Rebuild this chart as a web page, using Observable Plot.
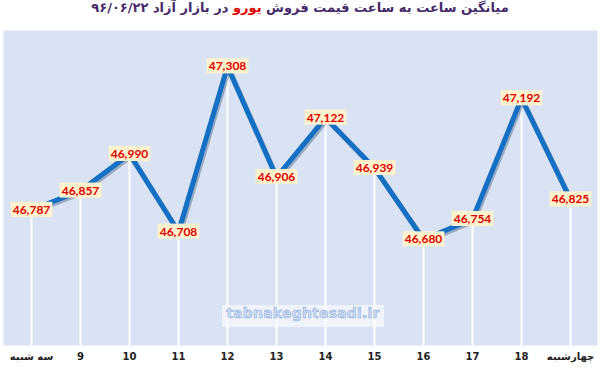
<!DOCTYPE html>
<html>
<head>
<meta charset="utf-8">
<script src="https://cdn.jsdelivr.net/npm/d3@7"></script>
<script src="https://cdn.jsdelivr.net/npm/@observablehq/plot@0.6"></script>
<style>
  body { margin: 0; background: #ffffff; width: 600px; height: 369px; overflow: hidden; position: relative; }
  #title { height: 30px; line-height: 30px; text-align: center; direction: rtl;
           font: bold 13px "DejaVu Sans", sans-serif; color: #45296a; white-space: nowrap; }
  #title .red { color: #e00000; }
  #wm { position: absolute; left: 222px; top: 305px; width: 162px; height: 22px; line-height: 22px;
        background: rgba(255,255,255,0.6); text-align: center; font: bold 14px "DejaVu Sans", sans-serif;
        color: #cfdcf2; -webkit-text-stroke: 0.5px #86a8d8; letter-spacing: 0.2px; }
</style>
</head>
<body>
<div id="title">میانگین ساعت به ساعت قیمت فروش <span class="red">یورو</span> در بازار آزاد ۹۶/۰۶/۲۲</div>
<div id="chart"></div>
<div id="wm">tabnakeghtesadi.ir</div>
<script>
const days = ["سه شنبه", "9", "10", "11", "12", "13", "14", "15", "16", "17", "18", "چهارشنبه"];
const prices = [46787, 46857, 46990, 46708, 47308, 46906, 47122, 46939, 46680, 46754, 47192, 46825];

const data = days.map((d, i) => ({day: d, price: prices[i]}));
const yMin = 46295, yMax = 47439;

const chart = Plot.plot({
  width: 600,
  height: 339,
  marginTop: 0,
  marginBottom: 24,
  marginLeft: 3,
  marginRight: 3,
  style: {background: "transparent", overflow: "visible"},
  x: {type: "point", domain: days, padding: 0.5, label: null, tickSize: 0, tickPadding: 7},
  y: {domain: [yMin, yMax], axis: null},
  marks: [
    Plot.frame({fill: "#dae3f3", stroke: null}),
    Plot.ruleX(data, {x: "day", y1: () => yMin, y2: "price", stroke: "#ffffff", strokeWidth: 2}),
    Plot.line(data, {x: "day", y: "price", stroke: "#1c3f66", strokeWidth: 5, strokeOpacity: 0.35, dx: 1.5, dy: 2}),
    Plot.line(data, {x: "day", y: "price", stroke: "#1570c4", strokeWidth: 5}),
    Plot.text(data, {x: "day", y: "price", text: d => d3.format(",")(d.price),
      fill: "#e00000", fontWeight: "bold", fontSize: 12, fontFamily: "Lato, 'Liberation Sans', sans-serif"})
  ]
});
const ax = chart.querySelector('g[aria-label="x-axis tick label"]');
if (ax) { ax.setAttribute("font-size", "10"); ax.setAttribute("font-weight", "bold"); ax.setAttribute("fill", "#222"); ax.setAttribute("font-family", "'DejaVu Sans', sans-serif"); }
document.getElementById("chart").appendChild(chart);

// beige label boxes behind value labels
const tg = Array.from(chart.querySelectorAll('g[aria-label="text"]')).pop();
if (tg) {
  tg.querySelectorAll("text").forEach(t => {
    const b = t.getBBox();
    const r = document.createElementNS("http://www.w3.org/2000/svg", "rect");
    r.setAttribute("x", b.x - 2);
    r.setAttribute("y", b.y);
    r.setAttribute("width", b.width + 4);
    r.setAttribute("height", b.height);
    r.setAttribute("fill", "#fff2cc");
    const tr = t.getAttribute("transform");
    if (tr) r.setAttribute("transform", tr);
    tg.insertBefore(r, t);
  });
}
</script>
</body>
</html>
